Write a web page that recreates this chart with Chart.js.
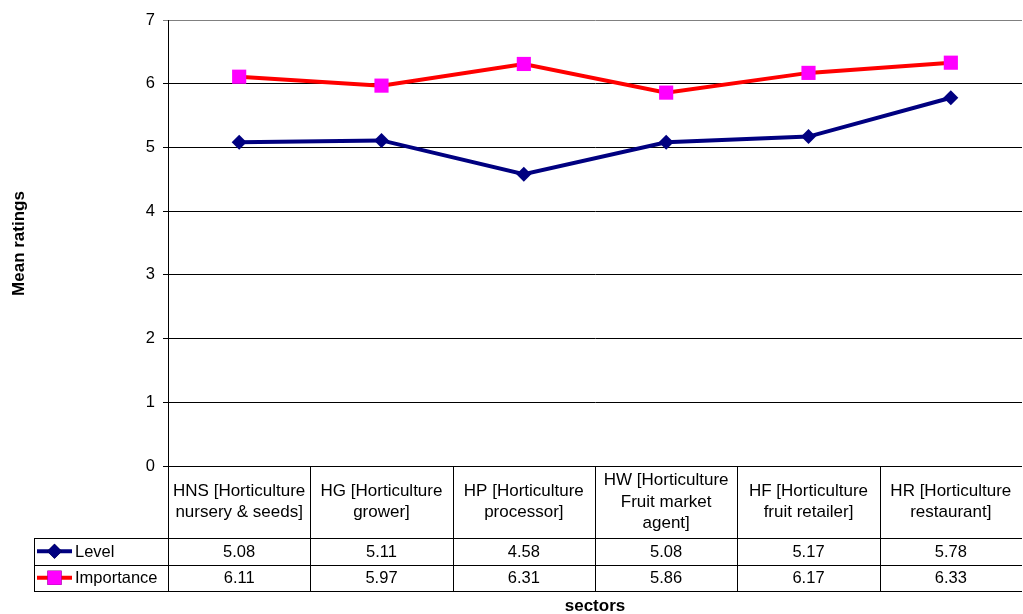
<!DOCTYPE html>
<html>
<head>
<meta charset="utf-8">
<script src="https://cdn.jsdelivr.net/npm/chart.js@4/dist/chart.umd.min.js"></script>
<style>
  html, body { margin: 0; padding: 0; background: #fff; }
  #wrap { width: 1023px; height: 614px; position: relative; }
</style>
</head>
<body>
<div id="wrap"><canvas id="c" width="1023" height="614"></canvas></div>
<script>
// Sector labels (multi-line, as shown in the data table under the plot)
const categories = [
  ["HNS [Horticulture", "nursery & seeds]"],
  ["HG [Horticulture", "grower]"],
  ["HP [Horticulture", "processor]"],
  ["HW [Horticulture", "Fruit market", "agent]"],
  ["HF [Horticulture", "fruit retailer]"],
  ["HR [Horticulture", "restaurant]"]
];
const levelValues = [5.08, 5.11, 4.58, 5.08, 5.17, 5.78];
const importanceValues = [6.11, 5.97, 6.31, 5.86, 6.17, 6.33];
const yTicks = [0, 1, 2, 3, 4, 5, 6, 7];

const FONT = '"Liberation Sans", Arial, sans-serif';
const PLOT_LEFT = 168;
const TABLE_LEFT = 34;
const HEADER_H = 72;
const ROW_H = 26.5;

// Draws the data table beneath the x axis and the two axis titles
const tablePlugin = {
  id: 'dataTable',
  afterDraw(chart) {
    const ctx = chart.ctx;
    const x = chart.scales.x;
    const area = chart.chartArea;
    const n = categories.length;
    const colW = (area.right - area.left) / n;
    const top = area.bottom;
    const r1 = top + HEADER_H;
    const r2 = r1 + ROW_H;
    const r3 = r2 + ROW_H;

    ctx.save();
    ctx.strokeStyle = '#000';
    ctx.lineWidth = 1;
    ctx.beginPath();
    // vertical column separators (the right edge runs off the canvas)
    for (let i = 0; i < n; i++) {
      const cx = Math.round(area.left + i * colW) + 0.5;
      ctx.moveTo(cx, top);
      ctx.lineTo(cx, r3);
    }
    // legend column left edge
    ctx.moveTo(TABLE_LEFT + 0.5, r1);
    ctx.lineTo(TABLE_LEFT + 0.5, r3);
    // horizontal rules
    [r1, r2, r3].forEach(y => {
      ctx.moveTo(TABLE_LEFT, Math.round(y) + 0.5);
      ctx.lineTo(area.right, Math.round(y) + 0.5);
    });
    ctx.stroke();

    // header labels
    ctx.fillStyle = '#000';
    ctx.font = '17px ' + FONT;
    ctx.textAlign = 'center';
    ctx.textBaseline = 'middle';
    const lh = 21.5;
    categories.forEach((lines, i) => {
      const cx = x.getPixelForValue(i);
      const cy = top + HEADER_H / 2;
      const start = cy - (lines.length - 1) * lh / 2;
      lines.forEach((t, j) => ctx.fillText(t, cx, start + j * lh));
    });

    // value rows
    ctx.font = '16.5px ' + FONT;
    const rows = [
      { ds: chart.data.datasets[0], vals: levelValues, y: (r1 + r2) / 2 },
      { ds: chart.data.datasets[1], vals: importanceValues, y: (r2 + r3) / 2 }
    ];
    rows.forEach(row => {
      row.vals.forEach((v, i) => {
        ctx.fillText(v.toFixed(2), x.getPixelForValue(i), row.y + 1);
      });
      // legend key
      const ky = row.y;
      ctx.strokeStyle = row.ds.borderColor;
      ctx.lineWidth = 4;
      ctx.beginPath();
      ctx.moveTo(37, ky);
      ctx.lineTo(72, ky);
      ctx.stroke();
      Chart.helpers.drawPoint(ctx, {
        pointStyle: row.ds.pointStyle,
        radius: row.ds.pointRadius,
        borderWidth: 0
      }, 54.5, ky);
      ctx.fillStyle = row.ds.pointBackgroundColor;
      ctx.fill();
      ctx.fillStyle = '#000';
      ctx.textAlign = 'left';
      ctx.fillText(row.ds.label, 75, ky + 1);
      ctx.textAlign = 'center';
    });

    // axis titles
    ctx.font = 'bold 17px ' + FONT;
    ctx.fillText('sectors', (area.left + area.right) / 2, 606);
    ctx.translate(19, 243.5);
    ctx.rotate(-Math.PI / 2);
    ctx.fillText('Mean ratings', 0, 0);
    ctx.restore();
  }
};

new Chart(document.getElementById('c'), {
  type: 'line',
  data: {
    labels: categories.map(c => c.join(' ')),
    datasets: [
      {
        label: 'Level',
        data: levelValues,
        borderColor: '#000080',
        backgroundColor: '#000080',
        pointBackgroundColor: '#000080',
        pointBorderColor: '#000080',
        borderWidth: 4,
        pointStyle: 'rectRot',
        pointRadius: 7.5,
        pointBorderWidth: 0,
        tension: 0
      },
      {
        label: 'Importance',
        data: importanceValues,
        borderColor: '#FF0000',
        backgroundColor: '#FF00FF',
        pointBackgroundColor: '#FF00FF',
        pointBorderColor: '#FF00FF',
        borderWidth: 4,
        pointStyle: 'rect',
        pointRadius: 10,
        pointBorderWidth: 0,
        tension: 0
      }
    ]
  },
  options: {
    responsive: false,
    animation: false,
    devicePixelRatio: 1,
    layout: { autoPadding: false, padding: { left: 0, right: 1, top: 20, bottom: 148 } },
    plugins: {
      legend: { display: false },
      tooltip: { enabled: false }
    },
    scales: {
      x: {
        type: 'category',
        offset: true,
        display: false
      },
      y: {
        min: 0,
        max: 7,
        afterFit(scale) { scale.width = PLOT_LEFT; },
        afterBuildTicks(scale) { scale.ticks = yTicks.map(v => ({ value: v })); },
        border: { display: true, color: '#000', width: 1 },
        grid: {
          color: c => (c.tick && c.tick.value === 7 ? '#808080' : '#000'),
          lineWidth: 1,
          tickLength: 5,
          drawTicks: true
        },
        ticks: {
          color: '#000',
          padding: 8,
          font: { family: FONT, size: 16.5 }
        }
      }
    }
  },
  plugins: [tablePlugin]
});
</script>
</body>
</html>
